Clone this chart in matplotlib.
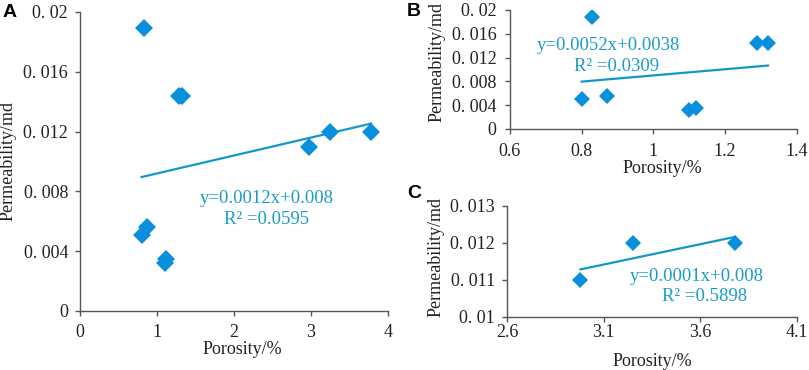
import matplotlib
matplotlib.use("Agg")
import matplotlib.pyplot as plt
import numpy as np

plt.rcParams['font.family'] = ['Liberation Serif', 'DejaVu Serif']

# panel B: porosity below 1.4 %
b_poro = [0.80, 0.83, 0.87, 1.10, 1.12, 1.29, 1.32]
b_perm = [0.0051, 0.0189, 0.0056, 0.0032, 0.0035, 0.0144, 0.0144]
# panel C: porosity above 2.6 %
c_poro = [2.98, 3.25, 3.78]
c_perm = [0.0110, 0.0120, 0.0120]
# panel A: all samples
a_poro = b_poro + c_poro
a_perm = b_perm + c_perm

# trend lines (slope, intercept) as drawn
a_fit = (0.0012, 0.008)
b_fit = (0.0052, 0.0038)
c_fit = (0.0011, 0.008)

a_eq = ["y=0.0012x+0.008", "R\u00b2 =0.0595"]
b_eq = ["y=0.0052x+0.0038", "R\u00b2 =0.0309"]
c_eq = ["y=0.0001x+0.008", "R\u00b2 =0.5898"]

a_xticks = [0, 1, 2, 3, 4]
a_yticks = [0, 0.004, 0.008, 0.012, 0.016, 0.02]
a_ylabels = ["0", "0. 004", "0. 008", "0. 012", "0. 016", "0. 02"]
b_xticks = [0.6, 0.8, 1.0, 1.2, 1.4]
b_xlabels = ["0.6", "0.8", "1", "1.2", "1.4"]
b_yticks = [0, 0.004, 0.008, 0.012, 0.016, 0.02]
b_ylabels = a_ylabels
c_xticks = [2.6, 3.1, 3.6, 4.1]
c_xlabels = ["2.6", "3.1", "3.6", "4.1"]
c_yticks = [0.01, 0.011, 0.012, 0.013]
c_ylabels = ["0. 01", "0. 011", "0. 012", "0. 013"]

marker_col = "#0a8fdc"
line_col = "#1597c6"
text_col = "#1a9cc8"
axis_col = "#555555"
ink = "#222222"

fig = plt.figure(figsize=(8.09, 3.70), dpi=100)
axA = fig.add_axes([0.0989, 0.1595, 0.3807, 0.8081])
axB = fig.add_axes([0.6304, 0.6514, 0.3544, 0.3216])
axC = fig.add_axes([0.6267, 0.1441, 0.3585, 0.2999])


def style(ax, xt, xl, yt, yl, xlim, ylim, xpad, ypad, xlab, ylab):
    ax.set_xlim(*xlim)
    ax.set_ylim(*ylim)
    ax.set_xticks(xt)
    ax.set_xticklabels(xl)
    ax.set_yticks(yt)
    ax.set_yticklabels(yl)
    for s in ["top", "right"]:
        ax.spines[s].set_visible(False)
    for s in ["left", "bottom"]:
        ax.spines[s].set_color(axis_col)
        ax.spines[s].set_linewidth(1.0)
    ax.tick_params(direction="out", length=3.6, width=1.0, color=axis_col,
                   labelsize=13, labelcolor=ink)
    ax.tick_params(axis="x", pad=xpad)
    ax.tick_params(axis="y", pad=ypad)
    ax.set_xlabel("Porosity/%", fontsize=13, color=ink)
    ax.set_ylabel("Permeability/md", fontsize=13, color=ink)
    ax.xaxis.set_label_coords(*xlab)
    ax.yaxis.set_label_coords(*ylab)


def panel(ax, x, y, fit, eq, ms, tx, ty, ha):
    x = np.array(x)
    ax.plot(x, y, "D", color=marker_col, markersize=ms, markeredgewidth=0,
            linestyle="none", zorder=3)
    xs = np.array([x.min(), x.max()])
    ax.plot(xs, fit[0] * xs + fit[1], color=line_col, linewidth=1.6, zorder=2)
    for t, px, py in zip(eq, tx, ty):
        ax.text(px, py, t, color=text_col, fontsize=13.5, ha=ha, va="center")


style(axA, a_xticks, [str(v) for v in a_xticks], a_yticks, a_ylabels,
      (0, 4), (0, 0.02), 5.5, 5, (0.526, -0.102), (-0.205, 0.5))
panel(axA, a_poro, a_perm, a_fit, a_eq, 9, [2.42, 2.42], [0.00750, 0.00610],
      "center")

style(axB, b_xticks, b_xlabels, b_yticks, b_ylabels,
      (0.6, 1.4), (0, 0.02), 6.5, 6, (0.53, -0.258), (-0.225, 0.56))
panel(axB, b_poro, b_perm, b_fit, b_eq, 8.5, [0.675, 0.778],
      [0.01400, 0.01050], "left")

style(axC, c_xticks, c_xlabels, c_yticks, c_ylabels,
      (2.6, 4.1), (0.01, 0.013), 1.5, 5, (0.50, -0.33), (-0.215, 0.535))
panel(axC, c_poro, c_perm, c_fit, c_eq, 8, [3.236, 3.40],
      [0.01108, 0.01054], "left")

fig.text(0.003, 0.966, "A", fontsize=14, fontweight="bold",
         family="Liberation Sans", va="center")
fig.text(0.503, 0.968, "B", fontsize=14, fontweight="bold",
         family="Liberation Sans", va="center")
fig.text(0.503, 0.478, "C", fontsize=14, fontweight="bold",
         family="Liberation Sans", va="center")

fig.savefig("out.png", dpi=100)
